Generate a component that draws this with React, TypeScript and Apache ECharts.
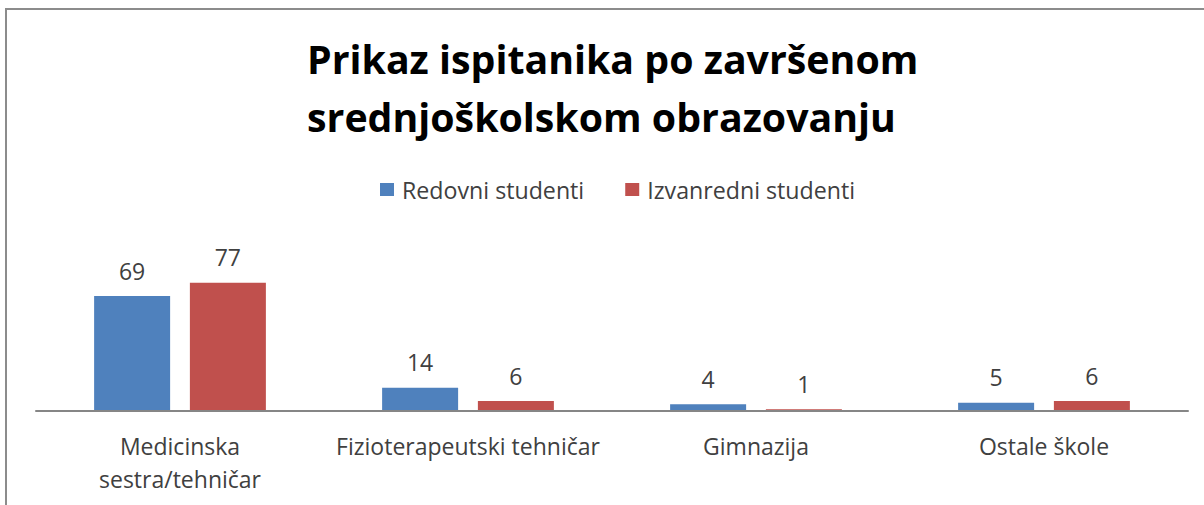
import React, { useEffect, useRef } from "react";
import * as echarts from "echarts";

const categories = ["Medicinska\nsestra/tehničar", "Fizioterapeutski tehničar", "Gimnazija", "Ostale škole"];
const redovni = [69, 14, 4, 5];
const izvanredni = [77, 6, 1, 6];
const seriesNames = ["Redovni studenti", "Izvanredni studenti"];
const titleText = "Prikaz ispitanika po završenom\nsrednjoškolskom obrazovanju";

const FONT = "'Open Sans', Lato, sans-serif";

export default function App() {
  const ref = useRef<HTMLDivElement>(null);
  useEffect(() => {
    if (!ref.current) return;
    const chart = echarts.init(ref.current, undefined, { renderer: "svg" });
    const labelStyle = {
      show: true,
      position: "top" as const,
      distance: 14,
      fontSize: 23,
      color: "#404040",
      fontFamily: FONT,
    };
    chart.setOption({
      animation: false,
      backgroundColor: "#ffffff",
      title: {
        text: titleText,
        left: 302,
        top: 25,
        textStyle: {
          fontSize: 39.3,
          fontWeight: "bold",
          color: "#000000",
          fontFamily: FONT,
          lineHeight: 58,
        },
      },
      legend: {
        data: seriesNames,
        top: 173,
        left: 375,
        itemWidth: 14,
        itemHeight: 13,
        itemGap: 41,
        icon: "rect",
        textStyle: { fontSize: 23.2, color: "#404040", fontFamily: FONT, padding: [0, 0, 0, 3] },
      },
      graphic: [
        {
          type: "rect",
          shape: { x: 6, y: 9, width: 1400, height: 700 },
          style: { fill: "none", stroke: "#8c8c8c", lineWidth: 2 },
          silent: true,
        },
      ],
      grid: { left: 36, right: 16, top: 261, bottom: 94, containLabel: false },
      xAxis: {
        type: "category",
        data: categories,
        z: 5,
        axisLine: { lineStyle: { color: "#868686", width: 2 } },
        axisTick: { show: false },
        axisLabel: {
          fontSize: 23,
          color: "#404040",
          fontFamily: FONT,
          margin: 18,
          lineHeight: 33,
          interval: 0,
        },
      },
      yAxis: {
        type: "value",
        min: 0,
        max: 90,
        interval: 10,
        show: false,
        splitLine: { show: false },
      },
      series: [
        {
          name: seriesNames[0],
          type: "bar",
          data: redovni,
          barWidth: 76,
          barGap: "26%",
          itemStyle: { color: "#4F81BD" },
          label: labelStyle,
        },
        {
          name: seriesNames[1],
          type: "bar",
          data: izvanredni,
          barWidth: 76,
          itemStyle: { color: "#C0504D" },
          label: labelStyle,
        },
      ],
    });
    return () => chart.dispose();
  }, []);
  return (
    <div
      ref={ref}
      style={{ position: "absolute", left: 0, top: 0, width: 1204, height: 505 }}
    />
  );
}
